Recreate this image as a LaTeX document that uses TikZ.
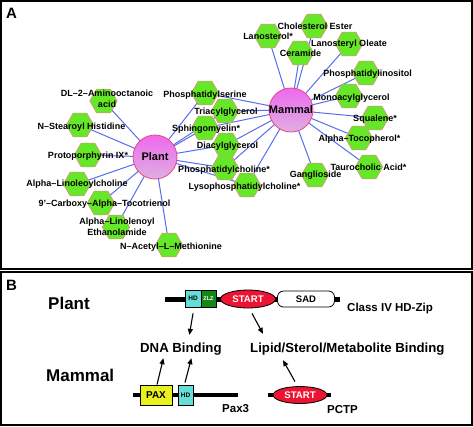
\documentclass[tikz,border=0pt]{standalone}
\usepackage{fontspec}
\setmainfont{Liberation Sans}
\usetikzlibrary{shapes.geometric,calc,arrows.meta}
\pgfdeclarelayer{bg}
\pgfsetlayers{bg,main}
\definecolor{hexfill}{RGB}{102,232,40}
\definecolor{hexline}{RGB}{230,140,140}
\definecolor{edgeblue}{RGB}{85,110,238}
\definecolor{hubtop}{RGB}{238,105,238}
\definecolor{hubbot}{RGB}{222,175,226}
\definecolor{hubline}{RGB}{236,70,130}
\definecolor{hdcyan}{RGB}{100,222,215}
\definecolor{zlzgreen}{RGB}{20,135,20}
\definecolor{startred}{RGB}{236,20,50}
\definecolor{paxyellow}{RGB}{232,240,30}
\begin{document}
\begin{tikzpicture}[x=1pt,y=-1pt,
  hexn/.style={regular polygon, regular polygon sides=6, minimum size=27.5pt, inner sep=0pt, fill=hexfill, draw=hexline, line width=0.6pt},
  hub/.style={circle, minimum size=44pt, inner sep=0pt, top color=hubtop, bottom color=hubbot, draw=hubline, line width=0.8pt},
  hubtxt/.style={inner sep=0pt, font=\fontsize{11}{13}\selectfont\bfseries},
  lbl/.style={inner sep=0pt, font=\fontsize{9}{11}\selectfont\bfseries, anchor=base},
  lbltwo/.style={inner sep=0pt, font=\fontsize{9}{11}\selectfont\bfseries, align=center, anchor=north},
  edge/.style={draw=edgeblue, line width=1pt},
  panel/.style={draw=black, line width=1.5pt},
  panlbl/.style={inner sep=0pt, anchor=base west, font=\fontsize{15}{17}\selectfont\bfseries},
  big/.style={inner sep=0pt, anchor=base west, font=\fontsize{17}{20}\selectfont\bfseries},
  mid/.style={inner sep=0pt, anchor=base west, font=\fontsize{13.2}{15}\selectfont\bfseries},
  small/.style={inner sep=0pt, anchor=base west, font=\fontsize{11.5}{13}\selectfont\bfseries},
  bar/.style={line width=5pt, draw=black},
  dombox/.style={rectangle, draw=black, line width=0.8pt, inner sep=0pt},
  startdom/.style={ellipse, draw=black, line width=0.8pt, fill=startred, inner sep=0pt, text=white, font=\fontsize{9.6}{11}\selectfont\bfseries},
  arr/.style={-{Triangle[length=6pt,width=5pt]}, line width=1.1pt, draw=black}
]
\useasboundingbox (0,0) rectangle (473,426);
% panels
\draw[panel] (1,1) rectangle (472,269);
\draw[panel] (1,272) rectangle (472,425);
\node[panlbl] (la) at (6,18) {A};
\node[panlbl] (lb) at (6,290) {B};

% hubs
\node[hub, label={[hubtxt]center:Plant}] (plant) at (155,157) {};
\node[hub, label={[hubtxt]center:Mammal}] (mammal) at (291,110) {};

% plant-only
\node[hexn] (p1) at (103.5,101) {};
\node[hexn] (p2) at (80,125) {};
\node[hexn] (p3) at (88,155) {};
\node[hexn] (p4) at (77,184) {};
\node[hexn] (p5) at (101,203) {};
\node[hexn] (p6) at (116,227) {};
\node[hexn] (p7) at (169,245) {};
% shared
\node[hexn] (s1) at (205,93) {};
\node[hexn] (s2) at (225,111) {};
\node[hexn] (s3) at (205,128) {};
\node[hexn] (s4) at (226,145) {};
\node[hexn] (s5) at (225,168) {};
\node[hexn] (s6) at (247,185) {};
% mammal-only
\node[hexn] (m1) at (268,36) {};
\node[hexn] (m2) at (314,26) {};
\node[hexn] (m3) at (300,53) {};
\node[hexn] (m4) at (349,44) {};
\node[hexn] (m5) at (366,73) {};
\node[hexn] (m6) at (349,96) {};
\node[hexn] (m7) at (375,118) {};
\node[hexn] (m8) at (359,138) {};
\node[hexn] (m9) at (369,167) {};
\node[hexn] (m10) at (315,175) {};

\begin{pgfonlayer}{bg}
\fill[white] (0,0) rectangle (473,426);
\foreach \n in {p1,p2,p3,p4,p5,p6,p7,s1,s2,s3,s4,s5,s6}
  \draw[edge] (plant.center) -- (\n.center);
\foreach \n in {s1,s2,s3,s4,s5,s6,m1,m2,m3,m4,m5,m6,m7,m8,m9,m10}
  \draw[edge] (mammal.center) -- (\n.center);
\end{pgfonlayer}

% labels
\node[lbltwo] (tp1) at (107,89.6) {DL–2–Aminooctanoic\\acid};
\node[lbl] (tp2) at (81.5,129.2) {N–Stearoyl Histidine};
\node[lbl] (tp3) at (88,158.2) {Protoporphyrin IX*};
\node[lbl] (tp4) at (77,186.2) {Alpha–Linoleoylcholine};
\node[lbl] (tp5) at (104.5,206.2) {9'–Carboxy–Alpha–Tocotrienol};
\node[lbltwo] (tp6) at (117,217.6) {Alpha–Linolenoyl\\Ethanolamide};
\node[lbl] (tp7) at (171,249.2) {N–Acetyl–L–Methionine};
\node[lbl] (ts1) at (205,97.2) {Phosphatidylserine};
\node[lbl] (ts2) at (226,114.2) {Triacylglycerol};
\node[lbl] (ts3) at (206,131.2) {Sphingomyelin*};
\node[lbl] (ts4) at (227.5,148.2) {Diacylglycerol};
\node[lbl] (ts5) at (224,172.2) {Phosphatidylcholine*};
\node[lbl] (ts6) at (244.5,189.2) {Lysophosphatidylcholine*};
\node[lbl] (tm1) at (268,39.2) {Lanosterol*};
\node[lbl] (tm2) at (315,29.2) {Cholesterol Ester};
\node[lbl] (tm3) at (300.5,56.2) {Ceramide};
\node[lbl] (tm4) at (349,46.2) {Lanosteryl Oleate};
\node[lbl] (tm5) at (367.5,76.2) {Phosphatidylinositol};
\node[lbl] (tm6) at (351.5,100.2) {Monoacylglycerol};
\node[lbl] (tm7) at (375,121.2) {Squalene*};
\node[lbl] (tm8) at (359.5,141.2) {Alpha–Tocopherol*};
\node[lbl] (tm9) at (368.5,170.2) {Taurocholic Acid*};
\node[lbl] (tm10) at (315.5,177.2) {Ganglioside};

% ---------- panel B ----------
\node[big] (bplant) at (48,309) {Plant};
\node[big] (bmammal) at (46,381) {Mammal};

% plant protein
\draw[bar] (165,299.5) -- (340,299.5);
\node[dombox, fill=hdcyan, minimum width=16pt, minimum height=17pt, font=\fontsize{6.5}{7}\selectfont\bfseries] (hdp) at (193,298.5) {HD};
\node[dombox, fill=zlzgreen, minimum width=15pt, minimum height=17pt, text=white, font=\fontsize{5.5}{6}\selectfont\bfseries] (zlz) at (208.5,298.5) {ZLZ};
\node[startdom, minimum width=55pt, minimum height=18pt] (startp) at (248,299) {START};
\node[dombox, fill=white, rounded corners=6pt, minimum width=57pt, minimum height=16pt, font=\fontsize{9.5}{11}\selectfont\bfseries] (sad) at (306,299) {SAD};
\node[small] (hdzip) at (347,311.5) {Class IV HD-Zip};

\node[mid] (dna) at (140,352) {DNA Binding};
\node[mid] (lipid) at (250,352) {Lipid/Sterol/Metabolite Binding};

% mammal proteins
\draw[bar, line width=4.5pt] (133,395) -- (238,395);
\node[dombox, fill=paxyellow, minimum width=32pt, minimum height=20pt, font=\fontsize{10}{11}\selectfont\bfseries] (pax) at (156,395) {PAX};
\node[dombox, fill=hdcyan, minimum width=15pt, minimum height=20pt, font=\fontsize{6.5}{7}\selectfont\bfseries] (hdm) at (185.5,395) {HD};
\node[small] (pax3) at (222,412) {Pax3};
\draw[bar, line width=4.5pt] (268,395) -- (331,395);
\node[startdom, minimum width=54pt, minimum height=17pt] (startm) at (300,395) {START};
\node[small] (pctp) at (327,413) {PCTP};

% arrows
\draw[arr] ($(hdp.south)+(0,6)$) -- ($(dna.north)+(8.5,-7.4)$);
\draw[arr] ($(startp.south)+(4,5)$) -- ($(lipid.north west)+(13,-8.4)$);
\draw[arr] ($(pax.north)+(1,0)$) -- ($(dna.south)+(-17.5,3.2)$);
\draw[arr] ($(hdm.north)+(-0.5,-2)$) -- ($(dna.south)+(10.5,3.2)$);
\draw[arr] ($(startm.north)+(-5,-4.5)$) -- ($(lipid.south west)+(33,5.2)$);
\end{tikzpicture}
\end{document}
